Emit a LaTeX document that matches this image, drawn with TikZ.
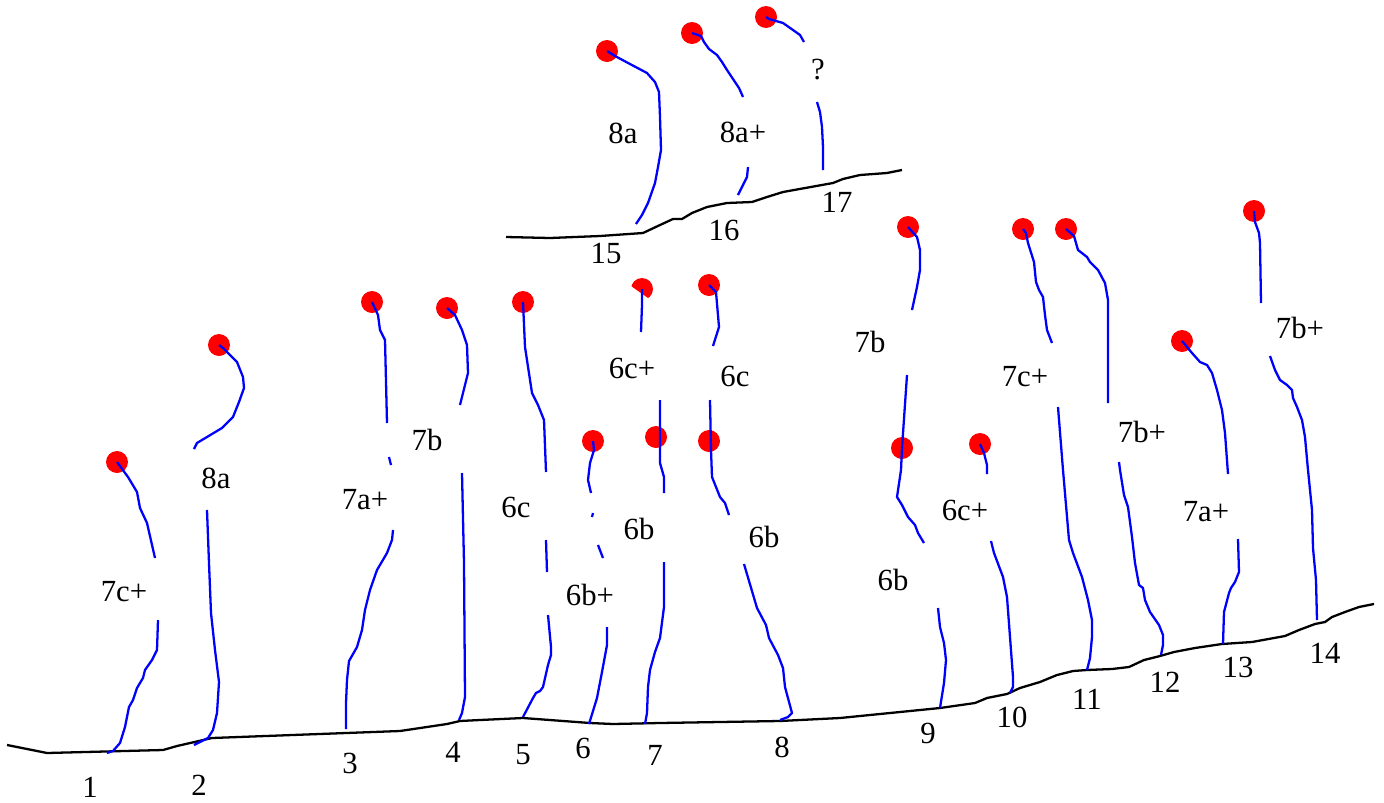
\documentclass[tikz,border=0pt]{standalone}
\usepackage{fontspec}
\setmainfont{Liberation Serif}
\usepackage{tikz}
\usetikzlibrary{positioning}

\begin{document}
\begin{tikzpicture}[
  x=0.02cm, y=-0.02cm,
  ground/.style={draw=black, line width=1.3pt, line join=round},
  route/.style={draw=blue, line width=1.3pt, line join=round},
  dot/.style={circle, fill=red, minimum size=0.44cm, inner sep=0pt},
  grade/.style={font=\fontsize{17.5}{20}\selectfont, inner sep=1pt},
  num/.style={font=\fontsize{17.5}{20}\selectfont, inner sep=1pt}
]
\useasboundingbox (0,0) rectangle (1384,802);

% ===== Ground lines =====
\draw[ground] (7,745) -- (47,753) -- (163,750) -- (177,746) -- (212,738) -- (400,731) -- (447,724) -- (460,721)
  -- (480,720) -- (523,718) -- (590,723) -- (613,724) -- (660,723) -- (780,721) -- (840,718) -- (940,708)
  -- (975,703) -- (987,698) -- (997,696) -- (1007,694) -- (1020,688) -- (1040,682) -- (1057,675) -- (1073,671)
  -- (1087,670) -- (1112,669) -- (1129,667) -- (1144,660) -- (1160,656) -- (1174,652) -- (1195,648) -- (1222,644)
  -- (1252,642) -- (1285,636) -- (1299,630) -- (1315,624) -- (1325,622) -- (1332,617) -- (1345,612) -- (1359,607) -- (1374,604);
\draw[ground] (506,237) -- (550,238) -- (600,236) -- (643,233) -- (660,225) -- (673,219) -- (682,219) -- (692,213)
  -- (707,207) -- (727,203) -- (752,202) -- (767,197) -- (783,192) -- (833,183) -- (843,179) -- (860,175) -- (887,173) -- (902,170);

% ===== Start numbers =====
\foreach \n/\x/\y in {1/90/787, 2/199/785, 3/350/763, 4/453/752, 5/523/755, 6/583/748, 7/655/755, 8/782/747,
  9/928/733, 10/1012/717, 11/1087/699, 12/1165/682, 13/1238/667, 14/1325/653, 15/606/253, 16/724/230, 17/837/202}
  \node[num] (n\n) at (\x,\y) {\n};

% ===== Anchors =====
\node[dot] (d1) at (117,462) {};
\node[dot] (d2) at (219,345) {};
\node[dot] (d3) at (372,302) {};
\node[dot] (d4) at (447,308) {};
\node[dot] (d5) at (523,302) {};
\node[dot] (d6) at (593,441) {};
\begin{scope}
  \clip (625,272) -- (660,272) -- (660,298) -- (648,298) -- (631,286) -- (625,286) -- cycle;
  \node[dot] (d7) at (642,289) {};
\end{scope}
\node[dot] (d7b) at (656,437) {};
\node[dot] (d8) at (709,285) {};
\node[dot] (d8b) at (709,441) {};
\node[dot] (d9) at (908,227) {};
\node[dot] (d9b) at (902,448) {};
\node[dot] (d10) at (980,444) {};
\node[dot] (d11) at (1023,229) {};
\node[dot] (d12) at (1066,229) {};
\node[dot] (d13) at (1182,341) {};
\node[dot] (d14) at (1254,211) {};
\node[dot] (d15) at (607,51) {};
\node[dot] (d16) at (692,33) {};
\node[dot] (d17) at (766,17) {};

% ===== Grades =====
\node[grade] (g1) at (124,592) {7c+};
\node[grade] (g2) at (216,478) {8a};
\node[grade] (g3) at (365,500) {7a+};
\node[grade] (g4) at (427,440) {7b};
\node[grade] (g5) at (516,507) {6c};
\node[grade] (g6) at (590,595) {6b+};
\node[grade] (g7) at (632,368) {6c+};
\node[grade] (g7b) at (639,529) {6b};
\node[grade] (g8) at (735,376) {6c};
\node[grade] (g8b) at (764,537) {6b};
\node[grade] (g9) at (870,342) {7b};
\node[grade] (g9b) at (893,580) {6b};
\node[grade] (g10) at (965,510) {6c+};
\node[grade] (g11) at (1025,377) {7c+};
\node[grade] (g12) at (1142,432) {7b+};
\node[grade] (g13) at (1206,512) {7a+};
\node[grade] (g14) at (1300,328) {7b+};
\node[grade] (g15) at (623,133) {8a};
\node[grade] (g16) at (743,132) {8a+};
\node[grade] (g17) at (818,70) {?};

% ===== Routes =====
% 1
\draw[route] (107,753) -- (113,751) -- (120,743) -- (125,727) -- (129,707) -- (133,700) -- (137,688) -- (143,678)
  -- (145,670) -- (152,660) -- (157,650) -- (158,620);
\draw[route] (d1.center) -- (128,477) -- (137,492) -- (140,508) -- (147,523) -- (155,558);
% 2
\draw[route] (194,745) -- (208,738) -- (213,730) -- (217,713) -- (219,682) -- (215,650) -- (211,613) -- (209,563) -- (207,510);
\draw[route] (d2.center) -- (223,348) -- (237,362) -- (243,377) -- (244,388) -- (239,402) -- (233,417) -- (222,428)
  -- (207,437) -- (197,443) -- (194,449);
% 3
\draw[route] (346,729) -- (346,703) -- (347,680) -- (349,661) -- (357,647) -- (362,630) -- (365,610) -- (370,590)
  -- (377,570) -- (387,553) -- (392,540) -- (393,530);
\draw[route] (389,457) -- (391,465);
\draw[route] (d3.center) -- (378,315) -- (380,330) -- (385,340) -- (387,423);
% 4
\draw[route] (459,720) -- (462,713) -- (465,697) -- (464,563) -- (462,473);
\draw[route] (d4.center) -- (455,315) -- (462,330) -- (467,345) -- (468,373) -- (460,405);
% 5
\draw[route] (523,717) -- (533,698) -- (536,693) -- (540,691) -- (543,687) -- (548,665) -- (551,655) -- (551,647) -- (548,615);
\draw[route] (546,540) -- (547,572);
\draw[route] (d5.center) -- (525,347) -- (532,393) -- (538,405) -- (544,420) -- (546,472);
% 6
\draw[route] (589,724) -- (597,698) -- (602,672) -- (607,645) -- (607,627);
\draw[route] (598,545) -- (603,558);
\draw[route] (592,517) -- (593,513);
\draw[route] (d6.center) -- (594,450) -- (590,463) -- (588,480) -- (591,493);
% 7
\draw[route] (645,724) -- (647,713) -- (648,687) -- (650,670) -- (655,652) -- (660,638) -- (664,607) -- (664,562);
\draw[route] (660,400) -- (660,463) -- (664,477) -- (664,493);
\draw[route] (d7.center) -- (642,305) -- (641,332);
% 8
\draw[route] (780,720) -- (788,717) -- (792,713) -- (785,687) -- (783,668) -- (778,655) -- (769,638) -- (766,625)
  -- (757,608) -- (744,564);
\draw[route] (710,400) -- (711,450) -- (712,477) -- (720,497) -- (725,503) -- (729,515);
\draw[route] (d8.center) -- (716,292) -- (719,327) -- (713,346);
% 9
\draw[route] (940,708) -- (944,683) -- (946,660) -- (944,643) -- (940,627) -- (938,608);
\draw[route] (907,375) -- (902,448) -- (901,470) -- (897,497) -- (902,505) -- (908,517) -- (915,525) -- (918,533) -- (924,543);
\draw[route] (d9.center) -- (917,237) -- (920,250) -- (920,270) -- (917,287) -- (912,310);
% 10
\draw[route] (1010,693) -- (1013,687) -- (1013,677) -- (1010,637) -- (1007,597) -- (1003,577) -- (994,553) -- (991,541);
\draw[route] (d10.center) -- (984,453) -- (987,465) -- (987,474);
% 11
\draw[route] (1087,670) -- (1090,658) -- (1092,637) -- (1092,620) -- (1088,600) -- (1082,577) -- (1073,553) -- (1069,540)
  -- (1063,470) -- (1058,407);
\draw[route] (d11.center) -- (1026,233) -- (1028,243) -- (1034,262) -- (1036,282) -- (1039,290) -- (1043,297) -- (1045,315)
  -- (1047,330) -- (1052,343);
% 12
\draw[route] (1161,655) -- (1163,645) -- (1163,635) -- (1159,625) -- (1150,612) -- (1145,600) -- (1143,588) -- (1139,585)
  -- (1135,563) -- (1132,537) -- (1128,507) -- (1124,495) -- (1120,470) -- (1119,462);
\draw[route] (d12.center) -- (1074,236) -- (1078,250) -- (1087,257) -- (1090,262) -- (1098,270) -- (1105,283) -- (1108,300) -- (1108,403);
% 13
\draw[route] (1223,644) -- (1224,612) -- (1229,593) -- (1231,588) -- (1235,582) -- (1239,572) -- (1238,539);
\draw[route] (d13.center) -- (1192,353) -- (1200,362) -- (1207,365) -- (1212,373) -- (1217,390) -- (1222,410) -- (1225,433) -- (1228,474);
% 14
\draw[route] (1317,620) -- (1316,580) -- (1313,548) -- (1312,510) -- (1308,470) -- (1305,437) -- (1302,420) -- (1297,407)
  -- (1293,398) -- (1292,390) -- (1287,385) -- (1280,380) -- (1275,370) -- (1270,356);
\draw[route] (d14.center) -- (1255,222) -- (1259,233) -- (1260,243) -- (1261,303);
% 15
\draw[route] (636,224) -- (642,215) -- (648,203) -- (655,183) -- (658,167) -- (661,150) -- (660,117) -- (659,92)
  -- (655,82) -- (647,73) -- (630,64) -- (615,56) -- (d15.center);
% 16
\draw[route] (738,195) -- (743,185) -- (747,177) -- (748,167);
\draw[route] (d16.center) -- (701,36) -- (704,42) -- (709,49) -- (717,55) -- (722,62) -- (727,70) -- (733,79) -- (739,88) -- (743,97);
% 17
\draw[route] (823,170) -- (823,147) -- (822,127) -- (820,112) -- (817,102);
\draw[route] (d17.center) -- (769,19) -- (783,23) -- (793,30) -- (800,35) -- (804,42);

\end{tikzpicture}
\end{document}
